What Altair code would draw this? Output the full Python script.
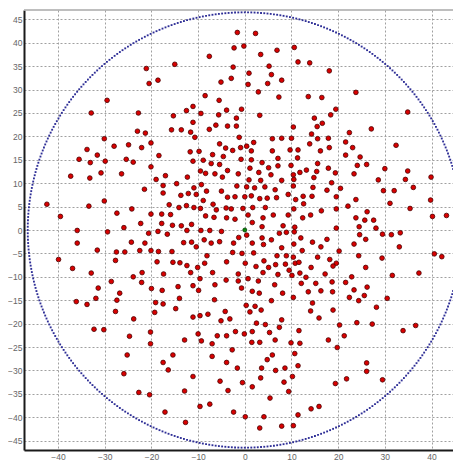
import altair as alt
import pandas as pd

# ---- data (quadrant by quadrant) ----
ul_x = [-42.4, -39.5, -37.3, -35.5, -33.8, -32.9, -33.1, -33.2, -33.4, -31.6, -30.8, -29.9, -30.1, -29.5, -30.1,
        -28.0, -27.4, -26.4, -25.4, -24.9, -23.9, -24.2, -25.9, -22.8, -23.0, -22.1, -21.5, -22.3, -21.3, -21.1,
        -20.5, -20.1, -20.1, -20.1, -18.6, -18.4, -19.0, -17.5, -17.8, -17.8, -17.0, -17.5, -15.0, -15.3, -15.7,
        -16.2, -15.9, -15.5, -14.6, -13.6, -13.7, -14.1, -13.6, -12.5, -12.3, -12.1, -12.5, -11.6, -11.7, -10.9,
        -11.4, -11.1, -11.1, -11.1, -10.7, -10.9, -10.4, -9.8, -9.4, -9.5, -9.5, -9.3, -8.9, -8.5, -8.4,
        -8.9, -8.2, -8.4, -7.6, -7.6, -7.2, -6.9, -6.4, -6.8, -6.1, -6.6, -6.2, -5.5, -5.6, -5.1,
        -5.4, -5.4, -4.8, -4.6, -5.0, -4.1, -3.9, -3.7, -3.7, -3.7, -4.0, -3.9]
ul_y = [5.5, 2.9, 11.5, 15.1, 17.2, 25.0, 14.4, 11.1, 5.1, 16.0, 12.2, 14.7, 19.5, 27.7, 6.2,
        17.9, 3.6, 12.0, 15.1, 18.2, 14.5, 4.5, 0.5, 25.0, 21.1, 17.6, 8.7, 1.4, 20.7, 34.5,
        31.3, 18.6, 13.5, 3.4, 32.0, 15.9, 10.8, 7.9, 3.4, 1.4, 11.6, 9.5, 35.4, 24.4, 21.4,
        5.4, 3.3, 1.0, 9.9, 21.4, 7.4, 4.8, 0.9, 25.5, 11.3, 7.8, 5.2, 20.9, 16.7, 4.8,
        1.2, 26.4, 23.0, 14.7, 19.8, 9.0, 7.6, 16.8, 24.9, 12.6, 4.6, 9.7, 14.9, 28.7, 12.1,
        6.3, 8.3, 3.0, 37.1, 21.5, 14.2, 16.1, 12.0, 5.5, 4.3, 2.7, 22.4, 27.7, 24.6, 31.6,
        18.4, 14.0, 11.3, 15.7, 8.3, 17.5, 25.6, 22.2, 12.7, 7.0, 4.7, 2.6]

ur_x = [-1.6, 2.3, -2.3, -0.2, 3.4, 6.9, 10.6, -2.5, 11.4, 13.9, 5.2, 0.9, -2.9, 5.7, 18.1,
        4.9, 7.9, 0.7, 2.9, 7.3, 13.6, 16.5, 23.8, -0.7, -1.8, 3.2, 14.9, 18.4, 19.5, 34.9,
        -1.8, 15.5, 16.6, 10.4, 14.3, 27.1, 22.4, -1.2, 1.9, 5.9, 7.9, 10.0, 15.6, 17.9, 13.9,
        21.6, 32.4, 0.4, -2.6, -0.9, 1.4, 5.9, 9.7, 11.4, 16.2, 18.1, 23.1, 21.6, 24.7, 11.3,
        -0.8, 1.4, 7.1, 3.7, 15.6, 9.9, 24.1, 26.1, 30.0, 34.9, 39.9, -1.4, 1.1, 3.0, 5.1,
        5.6, 7.1, 10.4, 11.8, 13.2, 15.4, 17.9, 19.4, 23.4, 0.9, 3.4, 7.9, 10.5, 14.8, 18.6,
        28.6, 34.4, -1.7, 0.4, 2.1, 4.3, 6.5, 10.4, 14.6, 17.6, 20.5, 29.7, 32.0, 36.1, -2.1,
        0.0, 1.4, 3.2, 4.8, 6.8, 9.3, 10.9, 12.5, 12.6, 14.4, 19.6, 23.8, 31.1, 39.8, -2.9,
        -0.4, 1.7, 4.4, 9.3, 10.5, 16.4, 19.6, 22.1, 26.2, 35.4, -2.1, 0.7, 1.6, 3.9, 6.1,
        12.4, 14.1, 23.8, 25.7, 27.6, 40.2, 43.2, 3.7, 8.2, 10.7, 19.6, 24.5, 28.1]
ur_y = [42.2, 42.0, 38.9, 39.3, 37.5, 38.4, 39.0, 34.8, 35.9, 35.7, 35.0, 33.5, 32.4, 33.2, 34.0,
        31.3, 32.0, 31.1, 29.5, 28.4, 28.5, 28.3, 29.4, 25.8, 23.9, 24.5, 23.9, 24.6, 25.8, 25.2,
        22.2, 22.1, 22.8, 22.0, 20.5, 21.6, 20.8, 19.8, 18.7, 19.5, 19.6, 19.6, 19.5, 19.6, 18.4,
        18.8, 18.1, 17.9, 17.0, 17.6, 16.9, 16.9, 17.1, 17.1, 16.9, 17.6, 17.6, 16.0, 15.6, 15.4,
        15.1, 15.0, 15.3, 14.4, 14.2, 13.8, 13.8, 14.0, 13.1, 12.6, 11.3, 12.0, 13.2, 12.3, 13.3,
        11.8, 13.7, 11.8, 12.3, 12.8, 12.5, 13.2, 12.2, 12.0, 10.7, 10.6, 10.6, 10.8, 11.2, 10.1,
        10.7, 10.8, 9.4, 9.2, 9.0, 9.2, 8.6, 9.4, 9.1, 8.5, 8.9, 8.4, 8.4, 9.1, 7.1,
        7.1, 7.3, 6.7, 6.8, 6.9, 7.6, 6.5, 7.2, 5.6, 7.2, 7.1, 6.5, 5.7, 6.4, 4.5,
        4.6, 4.8, 4.8, 3.2, 4.5, 4.1, 4.5, 5.1, 3.9, 4.6, 2.3, 3.2, 1.6, 2.6, 3.2,
        2.6, 3.2, 2.6, 2.1, 2.1, 2.9, 3.1, 0.7, 0.9, 0.6, 0.4, 0.7, 0.4]

ll_x = [-35.9, -35.9, -29.4, -20.6, -18.6, -16.6, -12.4, -9.4, -7.5, -5.0, -39.9, -36.9, -31.6, -32.9, -27.5,
        -25.7, -27.7, -24.3, -21.4, -22.5, -20.1, -18.5, -18.8, -15.6, -15.4, -13.9, -13.1, -11.4, -10.4, -12.4,
        -11.6, -10.1, -8.7, -7.2, -8.1, -8.6, -5.4, -3.9, -6.9, -36.1, -33.8, -31.9, -31.4, -28.6, -26.8,
        -27.4, -27.7, -23.9, -22.0, -22.1, -20.0, -17.7, -17.4, -19.1, -17.5, -19.3, -14.3, -14.0, -14.8, -11.1,
        -9.6, -9.9, -11.1, -9.6, -7.9, -6.5, -6.4, -4.0, -4.2, -5.1, -3.2, -23.8, -32.3, -30.2, -20.2,
        -20.2, -24.7, -25.2, -10.0, -12.9, -9.3, -7.0, -5.9, -3.9, -15.4, -17.5, -16.4, -7.0, -3.9, -25.9,
        -11.1, -22.7, -20.4, -12.9, -5.3, -3.6, -9.6, -7.5, -17.1, -12.7]
ll_y = [-0.1, -2.8, -0.4, -0.7, -0.3, -0.9, -0.1, -0.1, -0.1, -0.3, -6.3, -8.2, -4.3, -9.2, -4.7,
        -4.7, -6.5, -2.6, -2.8, -4.4, -4.4, -4.6, -6.8, -4.6, -6.9, -7.0, -2.7, -2.6, -3.6, -7.6,
        -9.1, -8.0, -2.1, -2.8, -5.5, -7.1, -2.5, -6.8, -9.1, -15.3, -15.9, -14.6, -12.4, -11.0, -13.5,
        -15.0, -17.4, -10.0, -9.1, -11.2, -12.5, -12.9, -9.4, -15.5, -15.8, -17.6, -12.1, -14.6, -16.8, -11.9,
        -10.4, -12.9, -18.6, -18.3, -18.0, -14.9, -11.7, -10.7, -17.4, -19.4, -19.0, -19.0, -21.2, -21.3, -21.8,
        -24.3, -22.7, -26.7, -22.2, -23.5, -23.7, -24.3, -22.6, -22.6, -26.7, -28.3, -29.9, -27.0, -28.3, -30.7,
        -31.3, -34.7, -35.2, -34.4, -32.3, -34.3, -37.7, -37.2, -38.9, -41.1]

lr_x = [-1.3, 0.4, 3.7, 7.4, 8.9, 10.6, 12.0, 14.5, 17.6, 24.6, 25.9, 29.5, 31.4, 33.3, -2.4,
        1.6, 4.0, 5.7, 10.5, -2.6, -0.6, 1.9, 6.9, 7.9, 8.9, 10.4, 12.3, 15.6, 16.3, 18.2,
        19.6, 20.2, 23.4, 24.4, 25.9, 29.4, 33.1, 40.6, 42.2, 0.1, 2.4, 4.1, 5.1, 6.6, 8.7,
        10.8, 11.6, 9.5, 14.2, -1.4, 0.7, 3.9, 7.1, 10.1, 11.8, 13.1, 17.2, 18.9, 21.6, 22.9,
        31.6, 37.3, -1.4, 2.9, -0.7, 1.6, 3.1, 6.4, 8.1, 10.4, 12.1, 13.6, 15.2, 16.3, 18.8,
        23.4, 26.2, 25.6, 22.4, 24.4, 30.5, 5.7, 0.3, 2.2, 1.1, 3.5, 14.5, 14.1, 18.9, 28.2,
        7.9, 15.9, -2.0, -0.1, 1.6, 2.5, 4.4, 5.3, 7.4, 6.5, 1.5, 3.2, 9.9, 11.6, 11.8,
        20.3, 24.0, 27.3, 21.3, 33.9, 36.6, 17.9, 19.8, -2.7, 5.9, 4.8, 10.7, -1.6, 3.6, 6.6,
        8.6, 11.4, 26.1, 26.1, 3.4, 10.2, 21.8, 29.5, -0.5, 1.6, 8.4, 9.4, 19.4, 5.4, -2.4,
        14.2, 15.9, 11.4, 0.1, 4.1, 3.2, 7.9, 10.4, 18.7]
lr_y = [-1.6, -1.1, -1.7, -0.7, -0.5, -0.4, -1.7, -2.6, -2.0, -1.0, -2.0, -0.9, -1.0, -0.6, -2.8,
        -2.8, -3.1, -2.1, -3.0, -4.8, -5.0, -4.9, -5.5, -3.8, -5.5, -5.8, -4.4, -5.8, -3.6, -6.3,
        -7.1, -4.5, -3.0, -5.5, -8.0, -6.0, -3.6, -5.1, -5.7, -7.1, -7.8, -6.6, -8.0, -7.4, -7.3,
        -7.1, -6.9, -8.6, -8.0, -9.4, -10.4, -9.1, -9.5, -9.7, -9.2, -10.1, -9.4, -7.7, -11.2, -10.0,
        -9.7, -9.2, -10.9, -10.9, -12.4, -13.1, -13.5, -11.7, -13.5, -14.4, -11.4, -13.2, -11.4, -13.0, -13.2,
        -12.8, -12.2, -14.0, -14.4, -15.1, -14.6, -15.1, -16.1, -16.3, -17.5, -17.1, -15.6, -17.3, -17.1, -16.5,
        -19.2, -18.8, -21.7, -22.2, -21.7, -19.9, -20.2, -21.9, -20.8, -23.5, -24.0, -24.0, -24.1, -21.5, -24.2,
        -20.3, -19.8, -20.1, -22.6, -21.5, -20.4, -23.5, -25.1, -25.6, -26.7, -27.7, -26.4, -29.5, -29.5, -30.0,
        -29.5, -29.0, -28.4, -30.2, -31.6, -31.3, -31.8, -32.0, -32.6, -33.5, -32.5, -34.5, -32.8, -35.9, -38.9,
        -38.2, -37.7, -39.5, -39.9, -39.9, -42.3, -41.9, -41.8, -11.1]

center_x = [0.0]
center_y = [0.0]

ring_radius = 46.5
ring_dots = 420
x_ticks = [-40, -30, -20, -10, 0, 10, 20, 30, 40]
y_ticks = [-45, -40, -35, -30, -25, -20, -15, -10, -5, 0, 5, 10, 15, 20, 25, 30, 35, 40, 45]

points = pd.DataFrame({"x": ul_x + ur_x + ll_x + lr_x, "y": ul_y + ur_y + ll_y + lr_y})
center = pd.DataFrame({"x": center_x, "y": center_y})

W, H = 429, 440
x_scale = alt.Scale(domain=[-47.3, 44.6], nice=False, zero=False)
y_scale = alt.Scale(domain=[-47, 47], nice=False, zero=False)

axis_common = dict(title=None, grid=True, gridDash=[2, 2], gridColor="#a0a0a0", gridWidth=1,
                   ticks=False, labelFontSize=8.5, labelColor="#666666", labelFont="Liberation Sans",
                   domainColor="#1a1a1a", domainWidth=2)
x_enc = alt.X("x:Q", scale=x_scale, axis=alt.Axis(values=x_ticks, labelPadding=2, **axis_common))
y_enc = alt.Y("y:Q", scale=y_scale, axis=alt.Axis(values=y_ticks, labelPadding=2, **axis_common))

ring = alt.Chart(alt.sequence(0, ring_dots, as_="i")).transform_calculate(
    x=f"{ring_radius} * cos(2 * PI * datum.i / {ring_dots})",
    y=f"{ring_radius} * sin(2 * PI * datum.i / {ring_dots})",
).mark_square(size=3.5, color="#2e2e96", opacity=1).encode(x=x_enc, y=y_enc)

dots = alt.Chart(points).mark_circle(
    size=22, color="#d80000", stroke="#4a0000", strokeWidth=0.8, opacity=1
).encode(x=x_enc, y=y_enc)

mid = alt.Chart(center).mark_circle(
    size=16, color="#0a8a0a", stroke="#063d06", strokeWidth=0.8, opacity=1
).encode(x=x_enc, y=y_enc)

top_border = alt.Chart(center).mark_rule(color="#a8a8a8", strokeWidth=1.5).encode(
    x=alt.value(0), x2=alt.value(W), y=alt.value(0)
)

chart = alt.layer(ring, dots, mid, top_border).properties(
    width=W, height=H,
    autosize=alt.AutoSizeParams(type="none"),
    padding={"left": 16, "top": 2, "right": 0, "bottom": 10},
).configure_view(stroke=None)

chart.save("out.html", embed_options={"renderer": "svg", "actions": False})
